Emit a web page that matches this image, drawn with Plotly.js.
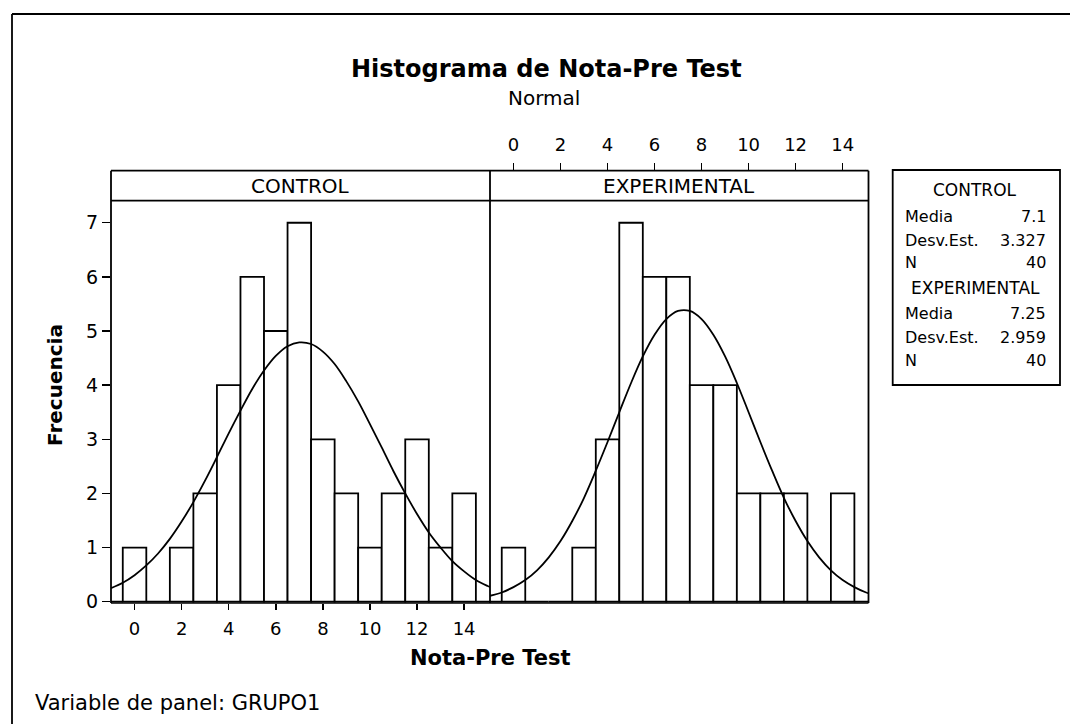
<!DOCTYPE html>
<html>
<head>
<meta charset="utf-8">
<script src="https://cdn.plot.ly/plotly-3.0.1.min.js"></script>
<style>html,body{margin:0;padding:0;background:#fff;}#chart{width:1070px;height:724px;}</style>
</head>
<body>
<div id="chart"></div>
<script>
// ---- data ----
const binCenters = [-1,0,1,2,3,4,5,6,7,8,9,10,11,12,13,14,15];
const controlCounts = [0,1,0,1,2,4,6,5,7,3,2,1,2,3,1,2,0];
const experimentalCounts = [0,1,0,0,1,3,7,6,6,4,4,2,2,2,0,2,0];
const curveX = [-1,-0.5,0,0.5,1,1.5,2,2.5,3,3.5,4,4.5,5,5.5,6,6.5,7,7.5,8,8.5,9,9.5,10,10.5,11,11.5,12,12.5,13,13.5,14,14.5,15,15.5];
const controlCurve = [0.25,0.35,0.49,0.67,0.89,1.16,1.48,1.84,2.24,2.67,3.11,3.53,3.93,4.27,4.54,4.72,4.79,4.76,4.62,4.39,4.07,3.70,3.28,2.85,2.41,2.00,1.62,1.28,1.00,0.75,0.56,0.40,0.29,0.20];
const experimentalCurve = [0.11,0.17,0.27,0.40,0.58,0.82,1.12,1.49,1.92,2.42,2.95,3.50,4.04,4.53,4.93,5.22,5.37,5.37,5.22,4.93,4.53,4.04,3.50,2.95,2.42,1.92,1.49,1.12,0.82,0.58,0.40,0.27,0.17,0.11];
const xTicks = [0,2,4,6,8,10,12,14];
const yTicks = [0,1,2,3,4,5,6,7];
const panelNames = ["CONTROL","EXPERIMENTAL"];
const statLabels = ["Media","Desv.Est.","N"];
const controlStats = ["7.1","3.327","40"];
const experimentalStats = ["7.25","2.959","40"];

// ---- helpers (pixel -> paper) ----
const W = 1070, H = 724;
const px = v => v / W;
const py = v => 1 - v / H;
const FONT = "DejaVu Sans";
const f = (size) => ({family: FONT, size: size, color: "black"});

const L = 111, MID = 490, R = 868.5, STRIP_T = 170.7, STRIP_B = 200.7, BOT = 603;

const barStyle = {color: "white", line: {color: "black", width: 1.8}};
const traces = [
  {type: "bar", x: binCenters, y: controlCounts, width: 1, marker: barStyle, xaxis: "x", yaxis: "y", hoverinfo: "x+y"},
  {type: "scatter", mode: "lines", x: curveX, y: controlCurve, line: {color: "black", width: 1.8, shape: "spline"}, xaxis: "x", yaxis: "y"},
  {type: "bar", x: binCenters, y: experimentalCounts, width: 1, marker: barStyle, xaxis: "x2", yaxis: "y2", hoverinfo: "x+y"},
  {type: "scatter", mode: "lines", x: curveX, y: experimentalCurve, line: {color: "black", width: 1.8, shape: "spline"}, xaxis: "x2", yaxis: "y2"}
];

const xr = [-1.0, 15.1];
const yr = [-0.024, 7.407];
const tickFont = f(18);

const line = (x0, y0, x1, y1, w) => ({type: "line", xref: "paper", yref: "paper", x0: px(x0), y0: py(y0), x1: px(x1), y1: py(y1), line: {color: "black", width: w || 1.8}, layer: "above"});

const shapes = [
  line(12, 14, W, 14, 1.8),
  line(12, 14, 12, H, 1.8),
  line(L, STRIP_T, R, STRIP_T),
  line(L, STRIP_B, R, STRIP_B),
  line(L, STRIP_T, L, BOT),
  line(MID, STRIP_T, MID, BOT),
  line(R, STRIP_T, R, BOT),
  line(L, BOT, R, BOT, 1.4),
  {type: "rect", xref: "paper", yref: "paper", x0: px(892.7), x1: px(1060), y0: py(170), y1: py(385), line: {color: "black", width: 1.8}, fillcolor: "rgba(0,0,0,0)"}
];

const ann = (text, x, y, opts) => Object.assign({text: text, xref: "paper", yref: "paper", x: px(x), y: py(y), showarrow: false, xanchor: "center", yanchor: "middle", font: f(15)}, opts || {});

const annotations = [
  ann("<b>Histograma de Nota-Pre Test</b>", 546, 69, {font: f(24)}),
  ann("Normal", 544, 98, {font: f(20)}),
  ann(panelNames[0], (L + MID) / 2, 186, {font: f(20)}),
  ann(panelNames[1], (MID + R) / 2, 186, {font: f(20)}),
  ann("<b>Nota-Pre Test</b>", 490, 658, {font: f(21)}),
  ann("<b>Frecuencia</b>", 55, 385, {textangle: -90, font: f(20)}),
  ann("Variable de panel: GRUPO1", 33, 703, {xanchor: "left", font: f(21)}),
  ann(panelNames[0], 975, 190, {font: f(17)}),
  ann(panelNames[1], 975, 288, {font: f(17)})
];
const rowsY1 = [216.7, 240, 262];
const rowsY2 = [313, 337, 360];
statLabels.forEach((s, i) => {
  annotations.push(ann(s, 903, rowsY1[i], {xanchor: "left", font: f(16)}));
  annotations.push(ann(controlStats[i], 1048, rowsY1[i], {xanchor: "right", font: f(16)}));
  annotations.push(ann(s, 903, rowsY2[i], {xanchor: "left", font: f(16)}));
  annotations.push(ann(experimentalStats[i], 1048, rowsY2[i], {xanchor: "right", font: f(16)}));
});

const layout = {
  width: W, height: H,
  margin: {l: 0, r: 0, t: 0, b: 0},
  paper_bgcolor: "white", plot_bgcolor: "white",
  showlegend: false,
  bargap: 0,
  xaxis: {domain: [px(L), px(MID)], range: xr, anchor: "y", tickvals: xTicks, ticks: "outside", ticklen: 6, tickwidth: 1.5, tickcolor: "black", ticklabelstandoff: 3, showgrid: false, zeroline: false, showline: false, tickfont: tickFont, fixedrange: true},
  yaxis: {domain: [py(BOT), py(STRIP_B)], range: yr, anchor: "x", tickvals: yTicks, ticks: "outside", ticklen: 8, tickwidth: 1.5, tickcolor: "black", showgrid: false, zeroline: false, showline: false, tickfont: f(19), fixedrange: true},
  xaxis2: {domain: [px(MID), px(R)], range: xr, anchor: "free", position: py(STRIP_T), side: "top", tickvals: xTicks, ticks: "outside", ticklen: 8, tickwidth: 1.5, tickcolor: "black", ticklabelstandoff: 5, showgrid: false, zeroline: false, showline: false, tickfont: tickFont, fixedrange: true},
  yaxis2: {domain: [py(BOT), py(STRIP_B)], range: yr, anchor: "x2", showticklabels: false, ticks: "", showgrid: false, zeroline: false, showline: false, fixedrange: true},
  shapes: shapes,
  annotations: annotations
};

Plotly.newPlot("chart", traces, layout, {displayModeBar: false, staticPlot: true});
</script>
</body>
</html>
